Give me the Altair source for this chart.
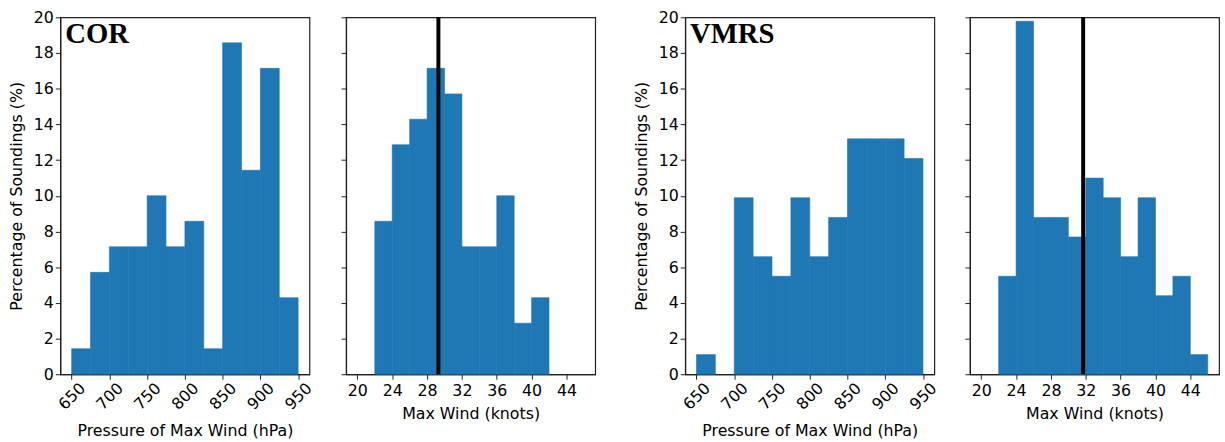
import altair as alt
import pandas as pd

# ---- data ----
press_left = [650, 675, 700, 725, 750, 775, 800, 825, 850, 875, 900, 925]
press_width = 25
cor_press = [1.43, 5.71, 7.14, 7.14, 10.0, 7.14, 8.57, 1.43, 18.57, 11.43, 17.14, 4.29]
vmrs_press = [1.10, 0.0, 9.89, 6.59, 5.49, 9.89, 6.59, 8.79, 13.19, 13.19, 13.19, 12.09]

wind_left = [20, 22, 24, 26, 28, 30, 32, 34, 36, 38, 40, 42, 44]
wind_width = 2
cor_wind = [0.0, 8.57, 12.86, 14.29, 17.14, 15.71, 7.14, 7.14, 10.0, 2.86, 4.29, 0.0, 0.0]
vmrs_wind = [0.0, 5.49, 19.78, 8.79, 8.79, 7.69, 10.99, 9.89, 6.59, 9.89, 4.40, 5.49, 1.10]

cor_mean_wind = 29.3
vmrs_mean_wind = 31.7

press_ticks = [650, 700, 750, 800, 850, 900, 950]
wind_ticks = [20, 24, 28, 32, 36, 40, 44]
pct_ticks = [0, 2, 4, 6, 8, 10, 12, 14, 16, 18, 20]

BLUE = "#1f77b4"
W, H = 252, 361


def hist_df(lefts, width, vals):
    rows = [{"x": l, "x2": l + width, "pct": v} for l, v in zip(lefts, vals) if v > 0]
    return pd.DataFrame(rows)


y_scale = alt.Scale(domain=[0, 20], nice=False)


def press_panel(vals, label):
    df = hist_df(press_left, press_width, vals)
    bars = alt.Chart(df).mark_rect(color=BLUE, stroke=BLUE, strokeWidth=0.6).encode(
        x=alt.X("x:Q", scale=alt.Scale(domain=[635, 965], nice=False, zero=False),
                axis=alt.Axis(values=press_ticks, title="Pressure of Max Wind (hPa)",
                              labelAngle=-45, labelAlign="center", labelBaseline="middle",
                              labelPadding=17, titlePadding=10, format="d")),
        x2="x2:Q",
        y=alt.Y("pct:Q", scale=y_scale,
                axis=alt.Axis(values=pct_ticks, title="Percentage of Soundings (%)",
                              titlePadding=9, format="d")),
    )
    txt = alt.Chart(pd.DataFrame({"t": [label]})).mark_text(
        font="Liberation Serif", fontWeight="bold", fontSize=29, align="left",
        baseline="top", color="black"
    ).encode(text="t:N", x=alt.value(5), y=alt.value(3))
    return alt.layer(bars, txt).properties(width=W, height=H)


def wind_panel(vals, mean):
    df = hist_df(wind_left, wind_width, vals)
    bars = alt.Chart(df).mark_rect(color=BLUE, stroke=BLUE, strokeWidth=0.6).encode(
        x=alt.X("x:Q", scale=alt.Scale(domain=[18.7, 47.3], nice=False, zero=False),
                axis=alt.Axis(values=wind_ticks, title="Max Wind (knots)",
                              labelAngle=0, labelPadding=3, titlePadding=8, format="d")),
        x2="x2:Q",
        y=alt.Y("pct:Q", scale=y_scale,
                axis=alt.Axis(values=pct_ticks, labels=False, title=None)),
    )
    rule = alt.Chart(pd.DataFrame({"m": [mean]})).mark_rule(
        color="black", strokeWidth=4
    ).encode(x="m:Q")
    return alt.layer(bars, rule).properties(width=W, height=H)


left = alt.hconcat(press_panel(cor_press, "COR"), wind_panel(cor_wind, cor_mean_wind), spacing=24)
right = alt.hconcat(press_panel(vmrs_press, "VMRS"), wind_panel(vmrs_wind, vmrs_mean_wind), spacing=23)

chart = alt.hconcat(left, right, spacing=37).properties(
    padding={"left": 8, "top": 6, "right": 5, "bottom": 0}
).configure_view(
    stroke="#222222", strokeWidth=1.2
).configure_axis(
    labelFont="DejaVu Sans", titleFont="DejaVu Sans",
    labelFontSize=16, titleFontSize=16, titleFontWeight="normal",
    labelColor="black", titleColor="black",
    tickColor="#222222", domainColor="#222222", tickSize=5, domainWidth=1.2,
    grid=False,
)

chart.save("out.html", embed_options={"renderer": "svg", "actions": False})
